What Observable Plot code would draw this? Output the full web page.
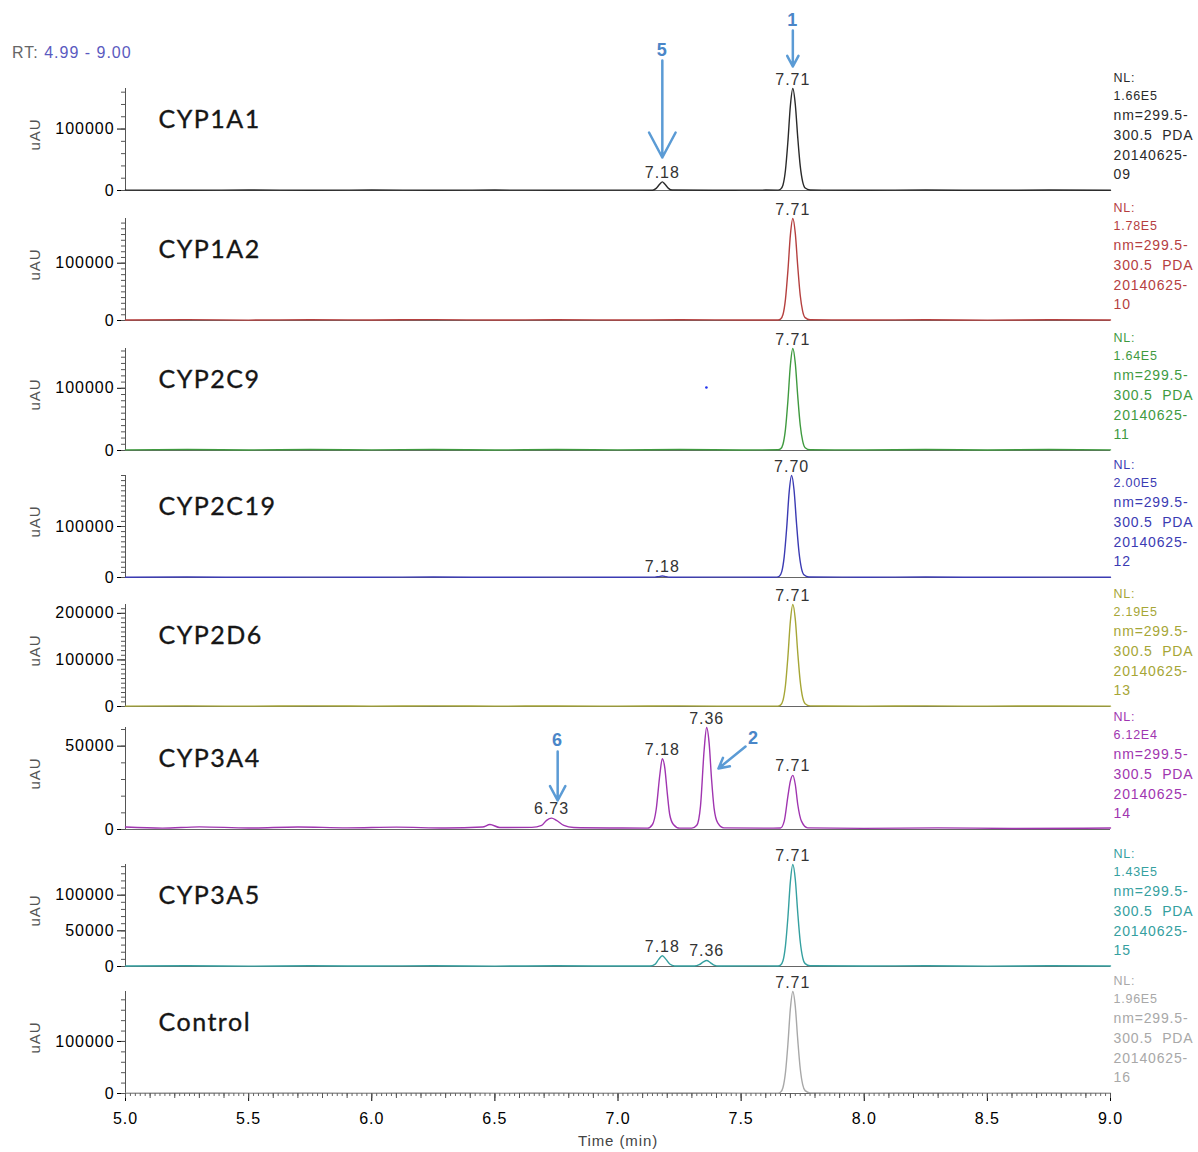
<!DOCTYPE html>
<html><head><meta charset="utf-8">
<script src="https://cdn.jsdelivr.net/npm/d3@7"></script>
<script src="https://cdn.jsdelivr.net/npm/@observablehq/plot@0.6"></script>
<style>
html,body{margin:0;padding:0;background:#fff;}
#wrap{position:relative;width:1198px;height:1152px;overflow:hidden;font-family:"Liberation Sans",Arial,sans-serif;}
#wrap svg{position:absolute;left:0;}
#rt{position:absolute;left:12px;top:44px;font-size:16px;letter-spacing:1px;color:#666;}
#rt span{color:#5a5ac0;}
#wrap svg text{letter-spacing:0.06em;}
#wrap svg g[aria-label="title"] text{letter-spacing:0;}
#wrap svg g[aria-label="y-axis"]{color:#555;}
#wrap svg g[aria-label="x-axis"]{color:#444;}
</style></head>
<body><div id="wrap"><div id="rt">RT: <span>4.99 - 9.00</span></div></div>
<script>
// ---------------- data ----------------
const panelNames = ["CYP1A1","CYP1A2","CYP2C9","CYP2C19","CYP2D6","CYP3A4","CYP3A5","Control"];
const nlValues = [166000,178000,164000,200000,219000,61200,143000,196000];
const nlLabels = ["1.66E5","1.78E5","1.64E5","2.00E5","2.19E5","6.12E4","1.43E5","1.96E5"];
const runIds = ["09","10","11","12","13","14","15","16"];
const traceColors = ["#2a2a2a","#b5403f","#3f9a3f","#3b3bb3","#a6a636","#a035b0","#35a0a0","#a8a8a8"];
const yMajorTicks = [[0,100000],[0,100000],[0,100000],[0,100000],[0,100000,200000],[0,50000],[0,50000,100000],[0,100000]];
const yMinorSteps = [20000,10000,10000,10000,10000,10000,10000,20000];
const xMajorTicks = [5.0,5.5,6.0,6.5,7.0,7.5,8.0,8.5,9.0];

// traces: [time (min), signal (uAU)]
const trace1A1 = [[5.00,700],[5.25,300],[5.50,900],[5.75,400],[6.00,800],[6.25,300],[6.50,700],[6.75,400],[7.00,600],[7.14,500],[7.155,3500],[7.17,10500],[7.18,14000],[7.19,10500],[7.205,3500],[7.22,700],[7.40,400],[7.60,700],[7.65,600],[7.66,2000],[7.67,9000],[7.68,33000],[7.69,80000],[7.70,138000],[7.71,166000],[7.72,140000],[7.73,86000],[7.74,40000],[7.75,14000],[7.76,4000],[7.78,800],[8.00,400],[8.25,800],[8.50,300],[8.75,700],[9.00,500]];
const trace1A2 = [[5.00,900],[5.25,1500],[5.50,700],[5.75,1400],[6.00,900],[6.25,1600],[6.50,800],[6.75,1300],[7.00,900],[7.25,1400],[7.50,800],[7.65,1000],[7.66,2500],[7.67,10500],[7.68,37000],[7.69,87000],[7.70,149000],[7.71,178000],[7.72,152000],[7.73,94000],[7.74,44000],[7.75,16000],[7.76,5000],[7.78,1200],[8.00,900],[8.25,1400],[8.50,700],[8.75,1300],[9.00,900]];
const trace2C9 = [[5.00,1000],[5.25,1600],[5.50,900],[5.75,1500],[6.00,1000],[6.25,1700],[6.50,900],[6.75,1500],[7.00,1000],[7.25,1600],[7.50,900],[7.65,1100],[7.66,2500],[7.67,10000],[7.68,34000],[7.69,80000],[7.70,137000],[7.71,164000],[7.72,140000],[7.73,87000],[7.74,41000],[7.75,15000],[7.76,4500],[7.78,1200],[8.00,1000],[8.25,1600],[8.50,900],[8.75,1500],[9.00,1000]];
const trace2C19 = [[5.00,500],[5.25,900],[5.50,400],[5.75,800],[6.00,500],[6.25,900],[6.50,400],[6.75,800],[7.00,500],[7.15,700],[7.165,1800],[7.18,3000],[7.195,1800],[7.21,600],[7.40,800],[7.60,500],[7.645,700],[7.655,2500],[7.665,11500],[7.675,41000],[7.685,97000],[7.695,167000],[7.705,200000],[7.715,171000],[7.725,106000],[7.735,50000],[7.745,18000],[7.755,5500],[7.775,1000],[8.00,600],[8.25,900],[8.50,400],[8.75,800],[9.00,500]];
const trace2D6 = [[5.00,800],[5.25,1300],[5.50,700],[5.75,1300],[6.00,800],[6.25,1400],[6.50,700],[6.75,1200],[7.00,800],[7.25,1300],[7.50,700],[7.65,900],[7.66,3000],[7.67,13000],[7.68,45000],[7.69,107000],[7.70,183000],[7.71,219000],[7.72,187000],[7.73,115000],[7.74,54000],[7.75,19000],[7.76,6000],[7.78,1300],[8.00,800],[8.25,1300],[8.50,700],[8.75,1200],[9.00,800]];
const trace3A4 = [[5.00,1500],[5.15,800],[5.30,1600],[5.50,900],[5.70,1500],[5.90,1000],[6.10,1400],[6.30,900],[6.45,1500],[6.48,3000],[6.52,1200],[6.65,1300],[6.69,2500],[6.71,5500],[6.73,6800],[6.75,5500],[6.78,2500],[6.82,1200],[7.00,900],[7.12,800],[7.14,3000],[7.155,12000],[7.17,33000],[7.18,42500],[7.19,37000],[7.20,22000],[7.21,9000],[7.225,3000],[7.25,800],[7.30,800],[7.32,2500],[7.335,14000],[7.35,48000],[7.36,61200],[7.37,52000],[7.38,30000],[7.39,13000],[7.405,4000],[7.43,1000],[7.60,800],[7.66,900],[7.675,5000],[7.69,20000],[7.70,29000],[7.71,32500],[7.72,27000],[7.73,15000],[7.745,5000],[7.77,1000],[8.00,700],[8.30,1000],[8.60,600],[9.00,900]];
const trace3A5 = [[5.00,600],[5.25,1100],[5.50,500],[5.75,1000],[6.00,600],[6.25,1100],[6.50,500],[6.75,1000],[7.00,600],[7.13,700],[7.15,3000],[7.165,10000],[7.18,15000],[7.195,10000],[7.21,3500],[7.23,800],[7.31,700],[7.33,2500],[7.345,6000],[7.36,8500],[7.375,5500],[7.39,2000],[7.41,700],[7.60,900],[7.65,800],[7.66,2000],[7.67,8000],[7.68,29000],[7.69,69000],[7.70,119000],[7.71,143000],[7.72,122000],[7.73,75000],[7.74,35000],[7.75,12500],[7.76,4000],[7.78,1000],[8.00,600],[8.25,1100],[8.50,500],[8.75,1000],[9.00,600]];
const traceControl = [[5.00,700],[5.25,1200],[5.50,600],[5.75,1100],[6.00,700],[6.25,1200],[6.50,600],[6.75,1100],[7.00,700],[7.25,1200],[7.50,600],[7.65,800],[7.66,2500],[7.67,11500],[7.68,40000],[7.69,95000],[7.70,163000],[7.71,196000],[7.72,167000],[7.73,103000],[7.74,48000],[7.75,17000],[7.76,5500],[7.78,1200],[8.00,700],[8.25,1200],[8.50,600],[8.75,1100],[9.00,700]];
const traces = [trace1A1,trace1A2,trace2C9,trace2C19,trace2D6,trace3A4,trace3A5,traceControl];

// peak labels: [time, apex value, label]
const peaks1A1 = [[7.18,14000,"7.18"],[7.71,166000,"7.71"]];
const peaks1A2 = [[7.71,178000,"7.71"]];
const peaks2C9 = [[7.71,164000,"7.71"]];
const peaks2C19 = [[7.18,3000,"7.18"],[7.705,200000,"7.70"]];
const peaks2D6 = [[7.71,219000,"7.71"]];
const peaks3A4 = [[6.73,6800,"6.73"],[7.18,42500,"7.18"],[7.36,61200,"7.36"],[7.71,32500,"7.71"]];
const peaks3A5 = [[7.18,15000,"7.18"],[7.36,8500,"7.36"],[7.71,143000,"7.71"]];
const peaksControl = [[7.71,196000,"7.71"]];
const peakSets = [peaks1A1,peaks1A2,peaks2C9,peaks2C19,peaks2D6,peaks3A4,peaks3A5,peaksControl];

// stray point visible in the CYP2C9 panel: [panel, time, value]
const strayPoints = [[2,7.359,101300]];

// annotation arrows (panel index, label, label pos, arrow from, arrow to) in data units
const arrowNotes = [
  {panel:0, label:"1", lt:7.71, lv:276700, t1:7.71, v1:260400, t2:7.71, v2:201800},
  {panel:0, label:"5", lt:7.18, lv:227800, t1:7.18, v1:211600, t2:7.18, v2:53700},
  {panel:5, label:"6", lt:6.755, lv:53400, t1:6.755, v1:46800, t2:6.755, v2:17400},
  {panel:5, label:"2", lt:7.55, lv:54600, t1:7.518, v1:49800, t2:7.408, v2:36600}
];

// ---------------- layout ----------------
const baselines = [190,320,450,577,706,829,966,1093];
const plotH = 102;
const wrap = document.getElementById("wrap");
const fmt1 = d3.format(".1f");

panelNames.forEach((name, i) => {
  const last = i === panelNames.length - 1;
  const top = i === 0 ? 0 : baselines[i-1] + 5;
  const bottom = last ? 1152 : baselines[i] + 5;
  const mb = bottom - baselines[i];
  const mt = baselines[i] - plotH - top;
  const NL = nlValues[i];
  const color = traceColors[i];
  const data = traces[i].map(([t, v]) => ({t, v}));
  const peaks = peakSets[i].map(([t, v, s]) => ({t, v, s}));
  const notes = arrowNotes.filter(a => a.panel === i);
  const strays = strayPoints.filter(p => p[0] === i).map(([p, t, v]) => ({t, v}));
  const minor = d3.range(0, NL + 1, yMinorSteps[i]);
  const marks = [
    Plot.ruleY([0], {stroke: "#666", strokeWidth: 1}),
    Plot.ruleY(minor, {x1: 5, x2: 5, insetLeft: -4, stroke: "#555"}),
    Plot.ruleX([5], {y1: 0, y2: NL, stroke: "#555"}),
    Plot.line(data, {x: "t", y: "v", stroke: color, strokeWidth: 1.4, curve: "monotone-x"}),
    Plot.dot(strays, {x: "t", y: "v", r: 1.3, fill: "#2233ee", stroke: null}),
    Plot.text(peaks, {x: "t", y: "v", text: "s", dy: -4, lineAnchor: "bottom", fontSize: 16, fill: "#333"}),
    Plot.text([name], {text: d => d, frameAnchor: "bottom-left", dx: 33, dy: -63, fontFamily: "Lato", fontSize: 25, fill: "#161616", stroke: "#161616", strokeWidth: 0.35, textAnchor: "start", ariaLabel: "title"}),
    Plot.text(["uAU"], {text: d => d, frameAnchor: "bottom-left", dx: -86, dy: -40, rotate: -90, fontSize: 15, fill: "#555"}),
    Plot.text([`NL:\n${nlLabels[i]}`], {text: d => d, frameAnchor: "bottom-right", dx: 3, dy: -121, lineAnchor: "top", textAnchor: "start", fontSize: 12.5, lineHeight: 1.45, fill: color}),
    Plot.text([`nm=299.5-\n300.5  PDA\n20140625-\n${runIds[i]}`], {text: d => d, frameAnchor: "bottom-right", dx: 3, dy: -84, lineAnchor: "top", textAnchor: "start", fontSize: 14, lineHeight: 1.4, fill: color})
  ];
  if (notes.length) {
    marks.push(
      Plot.arrow(notes, {x1: "t1", y1: "v1", x2: "t2", y2: "v2", stroke: "#5b9bd5", strokeWidth: 2.5, headLength: 17, headAngle: 56}),
      Plot.text(notes, {x: "lt", y: "lv", text: "label", fontSize: 18, fontWeight: "bold", fill: "#4a86c8"})
    );
  }
  if (last) {
    const xMid = d3.range(50, 91, 1).map(d => d / 10);
    const xMinor = d3.range(250, 451, 1).map(d => d / 50);
    marks.push(
      Plot.ruleX(xMinor, {y1: 0, y2: 0, insetBottom: -3, stroke: "#666"}),
      Plot.ruleX(xMid, {y1: 0, y2: 0, insetBottom: -5, stroke: "#555"}),
      Plot.text(["Time (min)"], {text: d => d, frameAnchor: "bottom", dy: 52, fontSize: 15, fill: "#444"})
    );
  }
  const svg = Plot.plot({
    width: 1198,
    height: bottom - top,
    marginLeft: 125,
    marginRight: 88,
    marginTop: mt,
    marginBottom: mb,
    x: last
      ? {domain: [5, 9], ticks: xMajorTicks, tickSize: 8, tickPadding: 11, tickFormat: fmt1, label: null}
      : {domain: [5, 9], axis: null},
    y: {domain: [0, NL], ticks: yMajorTicks[i], tickSize: 8, tickPadding: 3, tickFormat: d => String(d), label: null},
    style: {background: "transparent", overflow: "visible", fontSize: "16px", fontFamily: "'Liberation Sans', Arial, sans-serif"},
    marks
  });
  svg.style.position = "absolute";
  svg.style.top = top + "px";
  svg.style.left = "0px";
  wrap.appendChild(svg);
});
</script>
</body></html>
